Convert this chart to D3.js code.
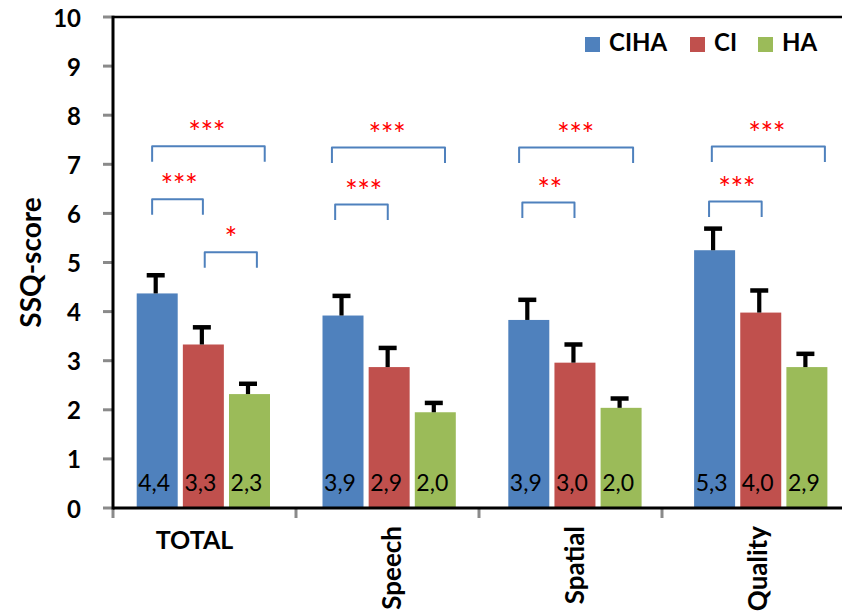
<!DOCTYPE html>
<html>
<head>
<meta charset="utf-8">
<script src="https://cdn.jsdelivr.net/npm/d3@7"></script>
<style>
  html, body { margin: 0; padding: 0; background: #fff; }
  svg { display: block; }
  text { font-family: Lato, "Open Sans", sans-serif; }
</style>
</head>
<body>
<svg id="chart" width="842" height="613"></svg>
<script>
// ---------------- DATA ----------------
const categories = ["TOTAL", "Speech", "Spatial", "Quality"];
const seriesNames = ["CIHA", "CI", "HA"];
const seriesColors = ["#4F81BD", "#C0504D", "#9BBB59"];

const cihaValues = [4.37, 3.92, 3.83, 5.25];
const ciValues   = [3.33, 2.87, 2.96, 3.98];
const haValues   = [2.32, 1.95, 2.04, 2.87];

const cihaErrors = [0.37, 0.40, 0.41, 0.44];
const ciErrors   = [0.35, 0.39, 0.37, 0.45];
const haErrors   = [0.21, 0.19, 0.19, 0.27];

const cihaLabels = ["4,4", "3,9", "3,9", "5,3"];
const ciLabels   = ["3,3", "2,9", "3,0", "4,0"];
const haLabels   = ["2,3", "2,0", "2,0", "2,9"];

const yTickValues = [0, 1, 2, 3, 4, 5, 6, 7, 8, 9, 10];
const yTitle = "SSQ-score";

// significance brackets: endpoints in bar-index units within the category
const bracketCats   = ["TOTAL", "TOTAL", "TOTAL", "Speech", "Speech", "Spatial", "Spatial", "Quality", "Quality"];
const bracketFrom   = [-0.11, -0.11, 1.03, -0.24, -0.17, -0.21, -0.14, -0.06, -0.12];
const bracketTo     = [2.33, 0.99, 2.16, 2.21, 0.97, 2.26, 0.99, 2.39, 1.02];
const bracketLevel  = [7.37, 6.29, 5.21, 7.34, 6.18, 7.34, 6.22, 7.36, 6.24];
const bracketStars  = ["***", "***", "*", "***", "***", "***", "**", "***", "***"];
const bracketStarAt = [1.07, 0.47, 1.59, 0.95, 0.44, 1.01, 0.45, 1.13, 0.48];

(function () {
const values = [cihaValues, ciValues, haValues];
const errors = [cihaErrors, ciErrors, haErrors];
const labels = [cihaLabels, ciLabels, haLabels];

const bars = [];
categories.forEach((c, ci) => {
  seriesNames.forEach((s, si) => {
    bars.push({cat: c, s: si, v: values[si][ci], e: errors[si][ci], label: labels[si][ci]});
  });
});
const brackets = bracketCats.map((c, i) => ({
  cat: c, from: bracketFrom[i], to: bracketTo[i], level: bracketLevel[i],
  stars: bracketStars[i], at: bracketStarAt[i]
}));

const svg = d3.select("#chart");
const pLeft = 113, pBottom = 508, pTop = 17, pRight = 842;

const y = d3.scaleLinear().domain([0, 10]).range([pBottom, pTop]);

const xGroup = d3.scaleBand().domain(categories)
  .range([pLeft, 851.1]).paddingInner(0.2826).paddingOuter(0.1276);
const xSeries = d3.scaleBand().domain([0, 1, 2])
  .range([0, xGroup.bandwidth()]).paddingInner(0.1116);
const xAxisScale = d3.scaleBand().domain(categories).range([pLeft, pLeft + 4 * 183]);

const barCenter = (cat, f) => xGroup(cat) + xSeries(0) + xSeries.bandwidth() / 2 + f * xSeries.step();

// bars
svg.append("g").selectAll("rect").data(bars).join("rect")
  .attr("x", d => xGroup(d.cat) + xSeries(d.s))
  .attr("y", d => y(d.v))
  .attr("width", xSeries.bandwidth())
  .attr("height", d => y(0) - y(d.v))
  .attr("fill", d => seriesColors[d.s]);

// error bars
const eg = svg.append("g").attr("stroke", "#000");
eg.selectAll("line.stem").data(bars).join("line").attr("class", "stem")
  .attr("x1", d => barCenter(d.cat, d.s) - 1.5)
  .attr("x2", d => barCenter(d.cat, d.s) - 1.5)
  .attr("y1", d => y(d.v))
  .attr("y2", d => y(d.v + d.e))
  .attr("stroke-width", 4.2);
eg.selectAll("line.cap").data(bars).join("line").attr("class", "cap")
  .attr("x1", d => barCenter(d.cat, d.s) - 1.5 - 9)
  .attr("x2", d => barCenter(d.cat, d.s) - 1.5 + 9)
  .attr("y1", d => y(d.v + d.e))
  .attr("y2", d => y(d.v + d.e))
  .attr("stroke-width", 4.5);

// value labels
svg.append("g").selectAll("text").data(bars).join("text")
  .attr("x", d => barCenter(d.cat, d.s) - 3)
  .attr("y", pBottom - 17)
  .attr("text-anchor", "middle")
  .attr("font-size", 23)
  .attr("fill", "#000")
  .text(d => d.label);

// axes
const ag = svg.append("g");
ag.selectAll("line.ytick").data(yTickValues).join("line").attr("class", "ytick")
  .attr("x1", pLeft - 10).attr("x2", pLeft)
  .attr("y1", d => y(d)).attr("y2", d => y(d))
  .attr("stroke", "#8a8a8a").attr("stroke-width", 3);
const xBounds = categories.map(c => xAxisScale(c));
ag.selectAll("line.xtick").data(xBounds).join("line").attr("class", "xtick")
  .attr("x1", d => d).attr("x2", d => d)
  .attr("y1", pBottom).attr("y2", pBottom + 10)
  .attr("stroke", "#8a8a8a").attr("stroke-width", 3);
ag.append("line").attr("x1", pLeft).attr("x2", pRight).attr("y1", pTop).attr("y2", pTop)
  .attr("stroke", "#000").attr("stroke-width", 2.5);
ag.append("line").attr("x1", pLeft).attr("x2", pRight).attr("y1", pBottom).attr("y2", pBottom)
  .attr("stroke", "#000").attr("stroke-width", 3);
ag.append("line").attr("x1", pLeft).attr("x2", pLeft).attr("y1", pTop - 1.25).attr("y2", pBottom + 1.5)
  .attr("stroke", "#000").attr("stroke-width", 3);

ag.selectAll("text.ylab").data(yTickValues).join("text").attr("class", "ylab")
  .attr("x", 81).attr("y", d => y(d) + 9.5)
  .attr("text-anchor", "end")
  .attr("font-size", 24).attr("font-weight", "bold").attr("fill", "#000")
  .text(d => d);

ag.append("text")
  .attr("transform", `translate(41, ${(pTop + pBottom) / 2}) rotate(-90)`)
  .attr("text-anchor", "middle")
  .attr("font-size", 28).attr("font-weight", "bold").attr("fill", "#000")
  .text(yTitle);

categories.forEach((c, i) => {
  const cx = xAxisScale(c) + xAxisScale.bandwidth() / 2;
  if (i === 0) {
    ag.append("text").attr("x", cx - 10).attr("y", 549)
      .attr("text-anchor", "middle")
      .attr("font-size", 25).attr("font-weight", "bold").attr("fill", "#000")
      .text(c);
  } else {
    ag.append("text")
      .attr("transform", `translate(${cx + 13}, 526) rotate(-90)`)
      .attr("text-anchor", "end")
      .attr("font-size", 26).attr("font-weight", "bold").attr("fill", "#000")
      .text(c);
  }
});

// significance brackets
const bg = svg.append("g");
const legLen = 15.5;
bg.selectAll("path").data(brackets).join("path")
  .attr("d", d => {
    const x1 = barCenter(d.cat, d.from), x2 = barCenter(d.cat, d.to), yy = y(d.level);
    return `M${x1},${yy + legLen} L${x1},${yy} L${x2},${yy} L${x2},${yy + legLen}`;
  })
  .attr("fill", "none").attr("stroke", "#4F81BD").attr("stroke-width", 2)
  .attr("stroke-linejoin", "round");
bg.selectAll("text").data(brackets).join("text")
  .attr("x", d => barCenter(d.cat, d.at))
  .attr("y", d => y(d.level) - 21 + 18)
  .attr("text-anchor", "middle")
  .attr("font-family", "'DejaVu Sans', sans-serif")
  .attr("font-size", 30).attr("letter-spacing", -0.5)
  .attr("fill", "#FF0000")
  .text(d => d.stars);

// legend
const lg = svg.append("g");
const legX = [585, 690, 758];
seriesNames.forEach((s, i) => {
  lg.append("rect").attr("x", legX[i]).attr("y", 37).attr("width", 15).attr("height", 15)
    .attr("fill", seriesColors[i]);
  lg.append("text").attr("x", legX[i] + 24).attr("y", 51)
    .attr("font-size", 24).attr("font-weight", "bold").attr("fill", "#000")
    .text(s);
});
})();
</script>
</body>
</html>
